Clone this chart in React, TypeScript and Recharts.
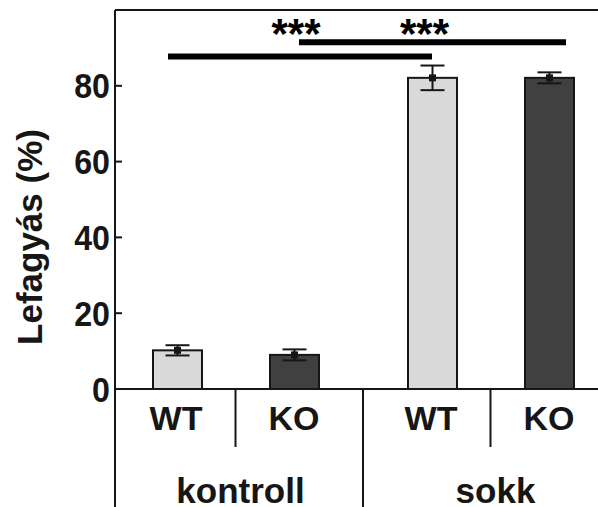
import { BarChart, Bar, XAxis, YAxis, ErrorBar, ReferenceLine } from 'recharts'

// values (Lefagyás %, mean ± SEM)
const groups = ['kontroll', 'sokk']
const genotypes = ['WT', 'KO']
const wtMean = [10.2, 82.1]
const wtSem = [1.35, 3.25]
const koMean = [9.0, 82.1]
const koSem = [1.45, 1.45]
const yTicks = [0, 20, 40, 60, 80]
const yLabel = 'Lefagyás (%)'

// significance brackets: same genotype, kontroll vs sokk
const sigSeries = ['WT', 'KO']
const sigLevel = [87.7, 91.5]
const sigText = ['***', '***']

const data = groups.map((g, i) => ({
  group: g,
  WT: wtMean[i],
  WTerr: wtSem[i],
  KO: koMean[i],
  KOerr: koSem[i],
}))

const INK = '#161616'
const FONT = '"Liberation Sans", Arial, sans-serif'
const W = 598
const H = 507
const PLOT_LEFT = 115
const BAR_SIZE = 49
const BAR_GAP = 68
const BAR_OFFSET = (BAR_SIZE + BAR_GAP) / 2
const BAND = 255
const COLORS: Record<string, string> = { WT: '#d9d9d9', KO: '#404040' }

// per-bracket tweaks: extension past bar centres, star placement
const SIG_LAYOUT = [
  { side: -1, extL: 9, extR: 0, starDx: -4, starDy: -9 },
  { side: 1, extL: -5, extR: 17, starDx: -8, starDy: 6 },
]

function MeanBar(props: any) {
  const { x, y, width, height, fill } = props
  return (
    <g>
      <rect x={x} y={y} width={width} height={height} fill={fill} stroke={INK} strokeWidth={2} />
      <rect x={x + width / 2 - 3.5} y={y - 3.5} width={7} height={7} fill={INK} />
    </g>
  )
}

function ValueTick(props: any) {
  const { x, y, payload } = props
  return (
    <g>
      <line x1={x + 5} x2={x + 12} y1={y} y2={y} stroke={INK} strokeWidth={2} />
      {/* the original digits are a touch narrower than Liberation Sans */}
      <g transform={`translate(${x}, ${y}) scale(0.92, 1)`}>
        <text
          x={0}
          y={0}
          dy="0.36em"
          textAnchor="end"
          fontSize={35}
          fontWeight="bold"
          fontFamily={FONT}
          fill={INK}
        >
          {payload.value}
        </text>
      </g>
    </g>
  )
}

function GroupTick(props: any) {
  const { x, y, payload, index } = props
  const txt = { fontFamily: FONT, fontWeight: 'bold' as const, fill: INK, textAnchor: 'middle' as const }
  return (
    <g>
      <text x={x - BAR_OFFSET - 1} y={y + 41} fontSize={34} {...txt}>
        {genotypes[0]}
      </text>
      <text x={x + BAR_OFFSET} y={y + 41} fontSize={34} {...txt}>
        {genotypes[1]}
      </text>
      <line x1={x} x2={x} y1={y} y2={y + 58} stroke={INK} strokeWidth={2} />
      <text x={x + 5} y={y + 114} fontSize={35} {...txt}>
        {payload.value}
      </text>
      {index === 0 && (
        <>
          <line x1={PLOT_LEFT} x2={PLOT_LEFT} y1={y} y2={H} stroke={INK} strokeWidth={2} />
          <line x1={x + BAND / 2} x2={x + BAND / 2} y1={y} y2={H} stroke={INK} strokeWidth={2} />
        </>
      )}
    </g>
  )
}

function YLabel() {
  return (
    <text
      x={42}
      y={237}
      transform="rotate(-90, 42, 237)"
      textAnchor="middle"
      fontSize={35}
      fontWeight="bold"
      fontFamily={FONT}
      fill={INK}
    >
      {yLabel}
    </text>
  )
}

function sigShape(i: number) {
  return (p: any) => {
    const lay = SIG_LAYOUT[i]
    const a = p.x1 + lay.side * BAR_OFFSET - lay.extL
    const b = p.x2 + lay.side * BAR_OFFSET + lay.extR
    return (
      <g>
        <line x1={a} x2={b} y1={p.y1} y2={p.y1} stroke="#000" strokeWidth={6} />
        <text
          x={(a + b) / 2 + lay.starDx}
          y={p.y1 + lay.starDy}
          textAnchor="middle"
          fontSize={42}
          fontWeight="bold"
          fontFamily={FONT}
          fill="#000"
        >
          {sigText[i]}
        </text>
      </g>
    )
  }
}

export default function App() {
  return (
    <div style={{ position: 'absolute', left: 0, top: 0, width: W, height: H, background: '#fff' }}>
      <BarChart
        width={W}
        height={H}
        data={data}
        margin={{ top: 10, right: 0, bottom: 0, left: 0 }}
        barSize={BAR_SIZE}
        barGap={BAR_GAP}
      >
        <XAxis
          dataKey="group"
          height={118}
          padding={{ left: -7, right: -20 }}
          interval={0}
          tickLine={false}
          tickSize={0}
          tickMargin={0}
          axisLine={{ stroke: INK, strokeWidth: 2 }}
          tick={<GroupTick />}
        />
        <YAxis
          width={PLOT_LEFT}
          domain={[0, 100]}
          ticks={yTicks}
          tickLine={false}
          tickSize={0}
          tickMargin={5}
          axisLine={{ stroke: INK, strokeWidth: 2 }}
          tick={<ValueTick />}
          label={<YLabel />}
        />
        <ReferenceLine y={100} stroke={INK} strokeWidth={2} />
        {sigSeries.map((s, i) => (
          <ReferenceLine
            key={s}
            segment={[
              { x: groups[0], y: sigLevel[i] },
              { x: groups[1], y: sigLevel[i] },
            ]}
            shape={sigShape(i)}
          />
        ))}
        {genotypes.map((gt) => (
          <Bar key={gt} dataKey={gt} fill={COLORS[gt]} shape={<MeanBar />} isAnimationActive={false}>
            <ErrorBar dataKey={gt + 'err'} width={12} stroke={INK} strokeWidth={2} direction="y" />
          </Bar>
        ))}
      </BarChart>
    </div>
  )
}
